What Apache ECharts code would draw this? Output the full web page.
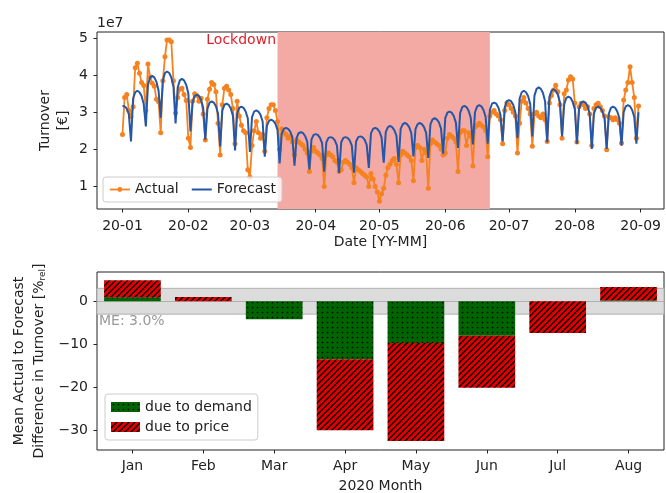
<!DOCTYPE html>
<html><head><meta charset="utf-8">
<script src="https://cdn.jsdelivr.net/npm/echarts@6/dist/echarts.min.js"></script>
<style>html,body{margin:0;padding:0;background:#fff}#c{width:666px;height:493px}</style>
</head><body><div id="c"></div>
<script>
// ---- data (turnover in units of 1e7 EUR, daily from 2020-01-01 to 2020-08-31) ----
const actual = [
  2.40, 3.40, 3.48, 3.05, 2.88,
  3.15, 4.20, 4.32, 4.05, 3.80, 3.72, 3.05,
  4.30, 3.95, 3.78, 3.70, 3.35, 3.28, 2.45,
  3.85, 4.50, 4.95, 4.95, 4.90, 3.85, 2.98,
  3.40, 3.62, 3.65, 3.48, 3.32, 2.30, 2.05,
  3.30, 3.50, 3.45, 3.30, 3.38, 2.95, 2.25,
  3.35, 3.62, 3.80, 3.75, 3.55, 2.70, 1.85,
  3.20, 3.65, 3.70, 3.60, 3.48, 3.10, 2.15,
  3.30, 2.90, 2.65, 2.50, 2.45, 1.45, 1.25,
  2.10, 2.50, 2.75, 2.45, 2.30, 2.40, 1.95,
  2.85, 3.10, 3.20, 3.20, 3.05, 2.75, 2.00,
  2.55, 2.45, 2.40, 2.30, 2.35, 2.20, 1.85,
  2.25, 2.20, 2.15, 2.10, 2.00, 1.90, 1.40,
  1.95, 2.05, 1.95, 1.90, 1.85, 1.75, 1.00,
  1.85, 1.90, 1.85, 1.80, 1.70, 1.65, 1.40,
  1.45, 1.65, 1.70, 1.65, 1.60, 1.50, 1.10,
  1.50, 1.45, 1.40, 1.35, 1.30, 1.25, 1.00,
  1.35, 1.20, 1.00, 0.85, 0.60, 0.80, 0.95,
  1.30, 1.50, 1.60, 1.70, 1.75, 1.60, 1.10,
  1.85, 1.95, 1.90, 1.85, 1.80, 1.70, 1.15,
  2.05, 2.10, 2.05, 1.70, 2.00, 1.90, 0.95,
  2.15, 2.25, 2.20, 2.15, 2.10, 2.00, 1.85,
  1.90, 2.30, 2.40, 2.35, 2.30, 2.20, 1.40,
  2.45, 2.50, 2.50, 2.10, 2.45, 2.35, 1.55,
  2.60, 2.65, 2.70, 2.65, 2.60, 2.50, 1.80,
  2.90, 3.00, 3.05, 2.95, 2.90, 2.80, 2.15,
  3.05, 3.25, 3.20, 3.10, 3.00, 2.90, 1.90,
  2.70, 3.30, 3.40, 3.25, 3.10, 2.95, 2.08,
  2.95, 3.00, 2.90, 2.85, 2.95, 2.80, 2.21,
  3.25, 3.45, 3.60, 3.73, 3.55, 3.20, 2.30,
  3.50, 3.60, 3.87, 3.96, 3.90, 3.25, 2.20,
  3.15, 3.24, 3.20, 3.10, 3.15, 2.95, 2.10,
  3.10, 3.20, 3.24, 3.15, 3.05, 2.90, 1.99,
  2.88, 2.85, 2.80, 2.85, 2.80, 2.70, 2.17,
  3.33, 3.60, 3.80, 4.23, 3.80, 3.40, 2.30,
  3.17
];
const forecast = [
  3.17, 3.16, 3.10, 2.95, 2.21,
  3.37, 3.54, 3.58, 3.54, 3.44, 3.22, 2.62,
  3.74, 3.94, 3.98, 3.94, 3.82, 3.58, 2.85,
  3.85, 4.06, 4.10, 4.06, 3.94, 3.69, 2.70,
  3.67, 3.86, 3.90, 3.86, 3.74, 3.51, 2.48,
  3.26, 3.44, 3.47, 3.44, 3.33, 3.12, 2.26,
  3.09, 3.26, 3.29, 3.26, 3.16, 2.96, 2.08,
  3.04, 3.20, 3.23, 3.20, 3.10, 2.91, 1.97,
  2.96, 3.12, 3.15, 3.12, 3.02, 2.84, 1.93,
  2.87, 3.02, 3.05, 3.02, 2.93, 2.75, 1.80,
  2.63, 2.77, 2.80, 2.77, 2.69, 2.52, 1.62,
  2.43, 2.55, 2.58, 2.55, 2.48, 2.32, 1.56,
  2.31, 2.44, 2.46, 2.44, 2.36, 2.21, 1.46,
  2.27, 2.39, 2.41, 2.39, 2.31, 2.17, 1.40,
  2.19, 2.31, 2.33, 2.31, 2.24, 2.10, 1.36,
  2.19, 2.31, 2.33, 2.31, 2.24, 2.10, 1.37,
  2.21, 2.33, 2.35, 2.33, 2.26, 2.12, 1.50,
  2.43, 2.55, 2.58, 2.55, 2.48, 2.32, 1.64,
  2.47, 2.60, 2.63, 2.60, 2.52, 2.37, 1.66,
  2.55, 2.68, 2.71, 2.68, 2.60, 2.44, 1.81,
  2.55, 2.68, 2.71, 2.68, 2.60, 2.44, 1.77,
  2.67, 2.81, 2.84, 2.81, 2.73, 2.56, 1.88,
  2.84, 2.99, 3.02, 2.99, 2.90, 2.72, 2.04,
  2.98, 3.14, 3.17, 3.14, 3.04, 2.85, 2.13,
  3.00, 3.16, 3.19, 3.16, 3.06, 2.87, 2.15,
  3.06, 3.23, 3.26, 3.23, 3.13, 2.93, 2.21,
  3.13, 3.30, 3.33, 3.30, 3.20, 3.00, 2.30,
  3.37, 3.54, 3.58, 3.54, 3.44, 3.22, 2.35,
  3.45, 3.63, 3.67, 3.63, 3.52, 3.30, 2.19,
  3.40, 3.58, 3.62, 3.58, 3.48, 3.26, 2.35,
  3.21, 3.39, 3.42, 3.39, 3.28, 3.08, 2.15,
  3.09, 3.26, 3.29, 3.26, 3.16, 2.96, 2.01,
  2.96, 3.12, 3.15, 3.12, 3.02, 2.84, 2.01,
  2.96, 3.12, 3.15, 3.12, 3.02, 2.84, 2.10,
  3.00, 3.16, 3.19, 3.16, 3.06, 2.87, 2.15,
  3.00
];
const monthStartDays = [0, 31, 60, 91, 121, 152, 182, 213, 244];
const monthTickLabels = ['20-01','20-02','20-03','20-04','20-05','20-06','20-07','20-08','20-09'];
const topYTicks = [1, 2, 3, 4, 5];
const lockdownStartDay = 73;
const lockdownEndDay = 173;

const barMonths = ['Jan','Feb','Mar','Apr','May','Jun','Jul','Aug'];
const dueToDemand = [0.9, 0, -4.2, -13.5, -9.7, -8.0, 0, 0.2];
const dueToPrice  = [4.0, 1.0, 0, -16.5, -22.8, -12.1, -7.4, 3.1];
const bottomYTicks = [-30, -20, -10, 0];
const meanError = 3.0;

// ---- rendering ----
const FONT = '"DejaVu Sans", sans-serif';
const TXT = '#222';
const ORANGE = '#f5821f';
const BLUE = '#2457a8';

function makeHatch(bg, kind) {
  const c = document.createElement('canvas');
  const s = kind === 'dots' ? 5 : 6;
  c.width = s; c.height = s;
  const g = c.getContext('2d');
  g.fillStyle = bg; g.fillRect(0, 0, s, s);
  if (kind === 'dots') {
    g.fillStyle = '#000';
    g.beginPath(); g.arc(s / 2, s / 2, 0.85, 0, Math.PI * 2); g.fill();
  } else {
    g.strokeStyle = '#000'; g.lineWidth = 1.4; g.beginPath();
    for (const k of [-1, 0, 1]) { g.moveTo(k * s, s); g.lineTo(k * s + s, 0); }
    g.stroke();
  }
  return c;
}
const greenPattern = { image: makeHatch('#006400', 'dots'), repeat: 'repeat' };
const redPattern = { image: makeHatch('#e00000', 'lines'), repeat: 'repeat' };

const dayIdx = actual.map((_, i) => i);
const chart = echarts.init(document.getElementById('c'), null, { renderer: 'canvas' });
const axisText = { color: TXT, fontSize: 14, fontFamily: FONT };
const minus = v => String(v).replace('-', '\u2212');
const tick = { show: true, length: 3.5, lineStyle: { color: '#222' } };

chart.setOption({
  animation: false,
  backgroundColor: '#fff',
  grid: [
    { left: 97, top: 32, width: 567, height: 177, show: true, borderColor: '#222', borderWidth: 1, backgroundColor: 'transparent' },
    { left: 97, top: 272, width: 567, height: 178, show: true, borderColor: '#222', borderWidth: 1, backgroundColor: 'transparent' }
  ],
  xAxis: [
    { type: 'value', gridIndex: 0, min: -12, max: 255, position: 'bottom',
      axisLine: { show: false, onZero: false }, splitLine: { show: false },
      axisTick: Object.assign({ customValues: monthStartDays }, tick),
      axisLabel: Object.assign({ margin: 10, customValues: monthStartDays,
        formatter: v => monthTickLabels[monthStartDays.indexOf(v)] || '' }, axisText) },
    { type: 'category', gridIndex: 1, data: barMonths, boundaryGap: true, position: 'bottom',
      axisLine: { show: false, onZero: false }, splitLine: { show: false },
      axisTick: Object.assign({ alignWithLabel: true }, tick),
      axisLabel: Object.assign({ margin: 9 }, axisText) }
  ],
  yAxis: [
    { type: 'value', gridIndex: 0, min: 0.39, max: 5.165, position: 'left',
      axisLine: { show: false, onZero: false }, splitLine: { show: false },
      axisTick: Object.assign({ customValues: topYTicks }, tick),
      axisLabel: Object.assign({ margin: 9, customValues: topYTicks, formatter: v => String(v) }, axisText) },
    { type: 'value', gridIndex: 1, min: -34.6, max: 6.8, position: 'left',
      axisLine: { show: false, onZero: false }, splitLine: { show: false },
      axisTick: Object.assign({ customValues: bottomYTicks }, tick),
      axisLabel: Object.assign({ margin: 9, customValues: bottomYTicks, formatter: minus }, axisText) }
  ],
  legend: [
    { left: 103, top: 177, orient: 'horizontal',
      data: [
        { name: 'Actual', itemStyle: { color: ORANGE, opacity: 1 }, lineStyle: { color: ORANGE, width: 1.8 } },
        { name: 'Forecast', itemStyle: { opacity: 0 }, lineStyle: { color: BLUE, width: 2 } }
      ],
      itemWidth: 20, itemHeight: 6, itemGap: 12, padding: [4, 6],
      backgroundColor: 'rgba(255,255,255,0.8)', borderColor: '#ccc', borderWidth: 1, borderRadius: 3,
      textStyle: { color: TXT, fontSize: 14, fontFamily: FONT, lineHeight: 17 } },
    { left: 105, top: 394, orient: 'vertical', data: ['due to demand', 'due to price'],
      itemWidth: 29, itemHeight: 10, itemGap: 6, padding: [6, 6], icon: 'rect',
      backgroundColor: 'rgba(255,255,255,0.8)', borderColor: '#ccc', borderWidth: 1, borderRadius: 3,
      textStyle: { color: TXT, fontSize: 14, fontFamily: FONT } }
  ],
  series: [
    { name: 'Actual', type: 'line', xAxisIndex: 0, yAxisIndex: 0, z: 2,
      data: actual.map((v, i) => [dayIdx[i], v]),
      symbol: 'circle', symbolSize: 5, showSymbol: true,
      itemStyle: { color: ORANGE }, lineStyle: { color: ORANGE, width: 1.8 },
      emphasis: { disabled: true },
      markArea: { silent: true, itemStyle: { color: '#f3aaa5' }, label: { show: false },
        data: [[{ xAxis: lockdownStartDay }, { xAxis: lockdownEndDay }]] } },
    { name: 'Forecast', type: 'line', xAxisIndex: 0, yAxisIndex: 0, z: 3,
      data: forecast.map((v, i) => [dayIdx[i], v]),
      symbol: 'none', showSymbol: false,
      itemStyle: { color: BLUE }, lineStyle: { color: BLUE, width: 2 },
      emphasis: { disabled: true } },
    { name: 'due to demand', type: 'bar', xAxisIndex: 1, yAxisIndex: 1, stack: 'm', z: 3,
      barWidth: '80%', data: dueToDemand, itemStyle: { color: greenPattern },
      emphasis: { disabled: true },
      markArea: { silent: true, itemStyle: { color: '#dcdcdc', borderColor: '#b0b0b0', borderWidth: 1 }, label: { show: false },
        data: [[{ yAxis: -meanError }, { yAxis: meanError }]] },
      markLine: { silent: true, symbol: 'none', label: { show: false }, z: 1,
        lineStyle: { color: '#b0b0b0', width: 1, type: 'solid' }, data: [{ yAxis: 0 }] } },
    { name: 'due to price', type: 'bar', xAxisIndex: 1, yAxisIndex: 1, stack: 'm', z: 3,
      barWidth: '80%', data: dueToPrice, itemStyle: { color: redPattern },
      emphasis: { disabled: true } }
  ],
  graphic: [
    { type: 'text', x: 97, y: 23, silent: true,
      style: { text: '1e7', fontSize: 14, fontFamily: FONT, fill: TXT, align: 'left', verticalAlign: 'middle', textAlign: 'left', textVerticalAlign: 'middle' } },
    { type: 'text', x: 276, y: 40, silent: true,
      style: { text: 'Lockdown', fontSize: 14, fontFamily: FONT, fill: '#e0202a', align: 'right', verticalAlign: 'middle', textAlign: 'right', textVerticalAlign: 'middle' } },
    { type: 'text', x: 54, y: 120.5, rotation: Math.PI / 2, silent: true,
      style: { text: 'Turnover\n[€]', fontSize: 14, lineHeight: 18, fontFamily: FONT, fill: TXT, align: 'center', verticalAlign: 'middle', textAlign: 'center', textVerticalAlign: 'middle' } },
    { type: 'text', x: 380.5, y: 242, silent: true,
      style: { text: 'Date [YY-MM]', fontSize: 14, fontFamily: FONT, fill: TXT, align: 'center', verticalAlign: 'middle', textAlign: 'center', textVerticalAlign: 'middle' } },
    { type: 'text', x: 29, y: 361, rotation: Math.PI / 2, silent: true,
      style: { text: 'Mean Actual to Forecast\nDifference in Turnover [%{s|rel}]', fontSize: 14, lineHeight: 20, fontFamily: FONT, fill: TXT,
        align: 'center', verticalAlign: 'middle', textAlign: 'center', textVerticalAlign: 'middle',
        rich: { s: { fontSize: 9, fontFamily: FONT, fill: TXT, lineHeight: 20, padding: [7, 0, 0, 0] } } } },
    { type: 'text', x: 99, y: 321, silent: true,
      style: { text: 'ME: ' + meanError.toFixed(1) + '%', fontSize: 14, fontFamily: FONT, fill: '#999', align: 'left', verticalAlign: 'middle', textAlign: 'left', textVerticalAlign: 'middle' } },
    { type: 'text', x: 380.5, y: 486, silent: true,
      style: { text: '2020 Month', fontSize: 14, fontFamily: FONT, fill: TXT, align: 'center', verticalAlign: 'middle', textAlign: 'center', textVerticalAlign: 'middle' } }
  ]
});
</script>
</body></html>
